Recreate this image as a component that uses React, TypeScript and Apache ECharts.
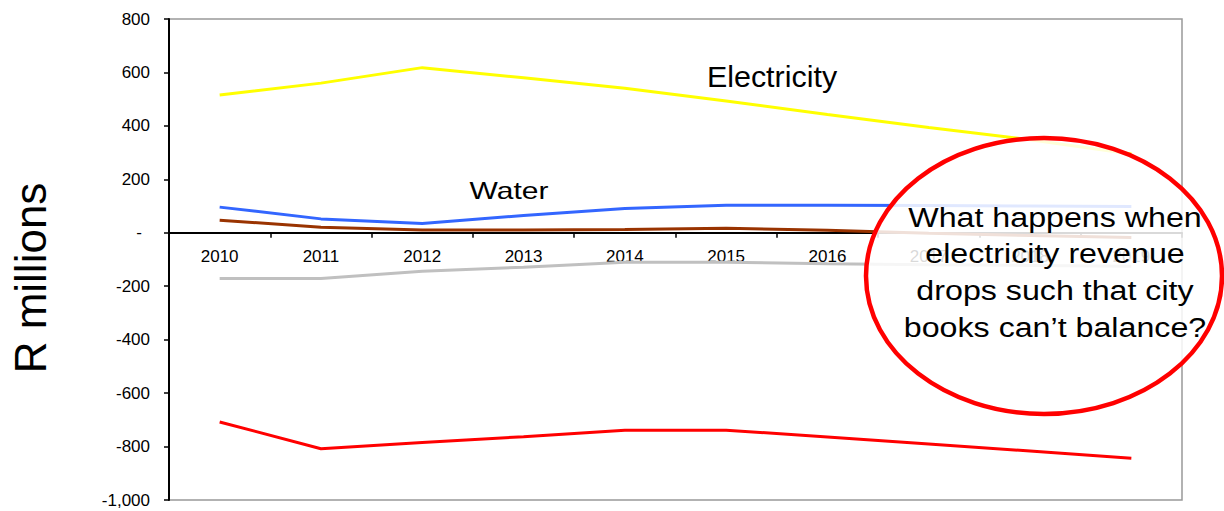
import React, { useEffect, useRef } from "react";
import * as echarts from "echarts";

const years = ["2010", "2011", "2012", "2013", "2014", "2015", "2016", "2017", "2018", "2019"];
const electricity = [516, 560, 618, 580, 541, 493, 443, 394, 348, 295];
const water = [96, 52, 35, 65, 91, 103, 103, 102, 100, 98];
const brownSeries = [47, 21, 10, 10, 12, 17, 9, -2, -10, -18];
const graySeries = [-171, -171, -144, -129, -110, -110, -116, -120, -122, -125];
const redSeries = [-708, -808, -785, -763, -739, -739, -764, -790, -817, -844];
const calloutLines = [
  "What happens when",
  "electricity revenue",
  "drops such that city",
  "books can\u2019t balance?",
];

const Y_MIN = -1000;
const Y_MAX = 800;
const GRID_TOP = 19;
const GRID_BOTTOM = 11;
const H = 511;

const FONT = "'Liberation Sans', Arial, sans-serif";

export default function App() {
  const ref = useRef<HTMLDivElement>(null);
  useEffect(() => {
    if (!ref.current) return;
    const chart = echarts.init(ref.current, undefined, { renderer: "svg" });
    const gridH = H - GRID_TOP - GRID_BOTTOM;
    const zeroFromBottom = ((0 - Y_MIN) / (Y_MAX - Y_MIN)) * gridH;
    const mk = (name: string, data: number[], color: string) => ({
      name,
      type: "line",
      data,
      symbol: "none",
      lineStyle: { color, width: 3 },
      itemStyle: { color },
    });
    const calloutTexts = calloutLines.map((t, i) => ({
      type: "text",
      x: 1055,
      y: 217 + i * 36.7,
      scaleX: 1.15,
      z: 101,
      style: {
        text: t,
        fill: "#000",
        font: `28px ${FONT}`,
        textAlign: "center",
        textVerticalAlign: "middle",
        verticalAlign: "middle",
      },
    }));
    chart.setOption({
      animation: false,
      backgroundColor: "#fff",
      grid: {
        left: 169,
        right: 42,
        top: GRID_TOP,
        bottom: GRID_BOTTOM,
        show: true,
        borderColor: "#999",
        borderWidth: 1.5,
        outerBoundsMode: "none",
      },
      xAxis: {
        type: "category",
        data: years,
        boundaryGap: true,
        position: "bottom",
        offset: -zeroFromBottom,
        axisLine: { onZero: false, lineStyle: { color: "#000", width: 2 } },
        axisTick: { show: true, length: 5, lineStyle: { color: "#000", width: 1.5 } },
        axisLabel: { margin: 15, fontSize: 17, color: "#000", fontFamily: FONT },
        splitLine: { show: false },
      },
      yAxis: {
        type: "value",
        min: Y_MIN,
        max: Y_MAX,
        interval: 200,
        axisLine: { show: true, lineStyle: { color: "#000", width: 2 } },
        axisTick: { show: true, length: 5, lineStyle: { color: "#000", width: 1.5 } },
        splitLine: { show: false },
        axisLabel: {
          margin: 19,
          fontSize: 17,
          color: "#000",
          fontFamily: FONT,
          formatter: (v: number) =>
            v === 0 ? "{d|-}" : v.toLocaleString("en-US"),
          rich: { d: { padding: [0, 8, 0, 0], fontSize: 17, color: "#000", fontFamily: FONT } },
        },
      },
      series: [
        mk("Electricity", electricity, "#FFFF00"),
        mk("Water", water, "#3366FF"),
        mk("Other", brownSeries, "#993300"),
        mk("Gray", graySeries, "#C0C0C0"),
        mk("Red", redSeries, "#FF0000"),
      ],
      graphic: [
        {
          type: "text",
          x: 30,
          y: 278,
          rotation: Math.PI / 2,
          style: {
            text: "R millions",
            fill: "#000",
            font: `44px ${FONT}`,
            textAlign: "center",
            textVerticalAlign: "middle",
            verticalAlign: "middle",
          },
        },
        {
          type: "text",
          x: 772,
          y: 76.5,
          scaleX: 1.05,
          z: 50,
          style: {
            text: "Electricity",
            fill: "#000",
            font: `29px ${FONT}`,
            textAlign: "center",
            textVerticalAlign: "middle",
            verticalAlign: "middle",
          },
        },
        {
          type: "text",
          x: 509,
          y: 191,
          scaleX: 1.25,
          z: 50,
          style: {
            text: "Water",
            fill: "#000",
            font: `24px ${FONT}`,
            textAlign: "center",
            textVerticalAlign: "middle",
            verticalAlign: "middle",
          },
        },
        {
          type: "ellipse",
          shape: { cx: 1044, cy: 276, rx: 178, ry: 138 },
          z: 100,
          style: { fill: "rgba(255,255,255,0.85)", stroke: "#FF0000", lineWidth: 4.5 },
        },
        ...calloutTexts,
      ],
    });
    return () => chart.dispose();
  }, []);
  return (
    <div
      ref={ref}
      style={{ position: "fixed", left: 0, top: 0, width: 1224, height: 511 }}
    />
  );
}
